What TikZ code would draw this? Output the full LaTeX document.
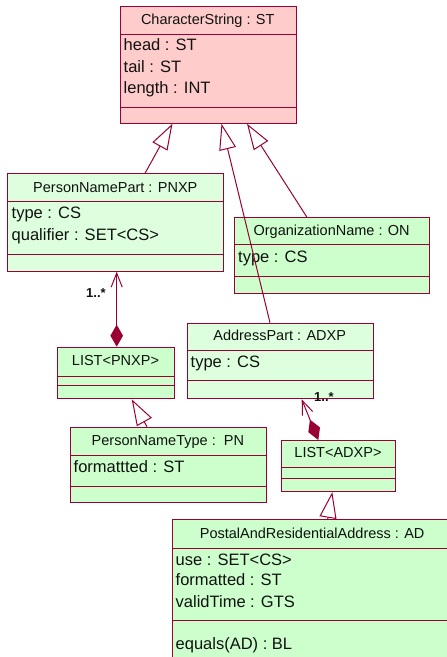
\documentclass[tikz,border=0pt]{standalone}
\usepackage{fontspec}
\setmainfont{Liberation Sans}
\usetikzlibrary{arrows.meta,calc}
\definecolor{crim}{HTML}{990033}
\definecolor{pinkfill}{HTML}{FFCCCC}
\definecolor{greenfill}{HTML}{CCFFCC}
\definecolor{lightgreen}{HTML}{DDFFDD}
\definecolor{txt}{HTML}{111111}
\tikzset{
  umlbox/.style={draw=crim, line width=1pt, inner sep=0pt, anchor=north west},
  sepline/.style={draw=crim, line width=1pt},
  ttl/.style={font=\fontsize{14.5}{16}\selectfont, text=txt, inner sep=0pt, text height=10.4pt, text depth=0pt},
  att/.style={font=\fontsize{16.5}{18}\selectfont, text=txt, inner sep=0pt, anchor=west, text height=11.8pt, text depth=0pt},
  mult/.style={font=\fontsize{13}{14}\selectfont\bfseries, text=txt, inner sep=0pt, text height=9.3pt, text depth=0pt},
  gen/.style={draw=crim, line width=1pt, -{Triangle[open,length=26pt,width=17pt]}},
  comp/.style={draw=crim, line width=1pt, {Diamond[length=22pt,width=12.6pt]}-{Straight Barb[length=14pt,width=11pt]}},
}
% name, x1, y1, x2, y2, sep1, sep2, fill
\newcommand\umlclassbox[8]{%
  \node[umlbox, fill=#8, minimum width={((#4)-(#2))*1pt}, minimum height={((#5)-(#3))*1pt}] (#1) at (#2,#3) {};
  \draw[sepline] (#2,#6) -- (#4,#6);
  \draw[sepline] (#2,#7) -- (#4,#7);
}
\begin{document}
\begin{tikzpicture}[x=1pt,y=-1pt]
\useasboundingbox (0,0) rectangle (447,657);
\clip (0,0) rectangle (447,657);

% classes
\umlclassbox{cs}{119.5}{6}{296}{122.7}{34.3}{107.3}{pinkfill}
\node[ttl] (cst) at (207.75,19) {CharacterString : ST};
\node[att] (csa1) at (123.5,45) {head : ST};
\node[att] (csa2) at (123.5,66.7) {tail : ST};
\node[att] (csa3) at (123.5,87.7) {length : INT};

\umlclassbox{pnxp}{7.3}{173.3}{223.3}{270.7}{201.3}{254.3}{lightgreen}
\node[ttl] (pnxpt) at (115.3,187) {PersonNamePart : PNXP};
\node[att] (pnxpa1) at (11.5,213) {type : CS};
\node[att] (pnxpa2) at (11.5,235) {qualifier : SET<CS>};

\umlclassbox{on}{234.3}{217.3}{429}{292.7}{244.3}{276.3}{greenfill}
\node[ttl] (ont) at (331.65,230) {OrganizationName : ON};
\node[att] (ona1) at (238,256.7) {type : CS};

\umlclassbox{adxp}{186.7}{322.7}{372.7}{398.3}{350}{380}{lightgreen}
\node[ttl] (adxpt) at (279.7,335) {AddressPart : ADXP};
\node[att] (adxpa1) at (190.5,361.7) {type : CS};

\umlclassbox{lpnxp}{56.7}{346.7}{174.3}{398.3}{376}{385.3}{greenfill}
\node[ttl] (lpnxpt) at (115.5,360) {LIST<PNXP>};

\umlclassbox{pn}{70}{426.7}{265.7}{501.7}{455}{486}{greenfill}
\node[ttl] (pnt) at (167.85,440.7) {PersonNameType :\ \ PN};
\node[att] (pna1) at (73.5,466.7) {formattted : ST};

\umlclassbox{ladxp}{281}{440}{395}{491}{467.3}{478.3}{greenfill}
\node[ttl] (ladxpt) at (338,452.3) {LIST<ADXP>};

\umlclassbox{ad}{172.3}{519.3}{452}{680}{548.3}{620.7}{greenfill}
\node[ttl] (adt) at (312.2,533.3) {PostalAndResidentialAddress : AD};
\node[att] (ada1) at (175.5,560) {use : SET<CS>};
\node[att] (ada2) at (175.5,579.3) {formatted : ST};
\node[att] (ada3) at (175.5,601.7) {validTime : GTS};
\node[att] (ada4) at (175.5,643.3) {equals(AD) : BL};

% generalizations
\draw[gen] ($(pnxp.north west)+(137.7,0)$) -- ($(cs.south west)+(53,0)$);
\draw[gen] ($(adxp.north west)+(83.3,0)$) -- ($(cs.south west)+(102,0)$);
\draw[gen] ($(on.north west)+(72.7,0)$) -- ($(cs.south west)+(127.5,0)$);
\draw[gen] ($(pn.north west)+(77,0)$) -- ($(lpnxp.south west)+(75,0)$);
\draw[gen] ($(ad.north west)+(155.4,0)$) -- ($(ladxp.south west)+(51.3,0)$);

% compositions
\draw[comp] ($(lpnxp.north west)+(60,0)$) -- ($(pnxp.south west)+(109.4,0)$);
\draw[comp] ($(ladxp.north west)+(37.3,0)$) -- ($(adxp.south west)+(115,0)$);
\node[mult] (m1) at (96,293) {1..*};
\node[mult] (m2) at (324,397) {1..*};
\end{tikzpicture}
\end{document}
